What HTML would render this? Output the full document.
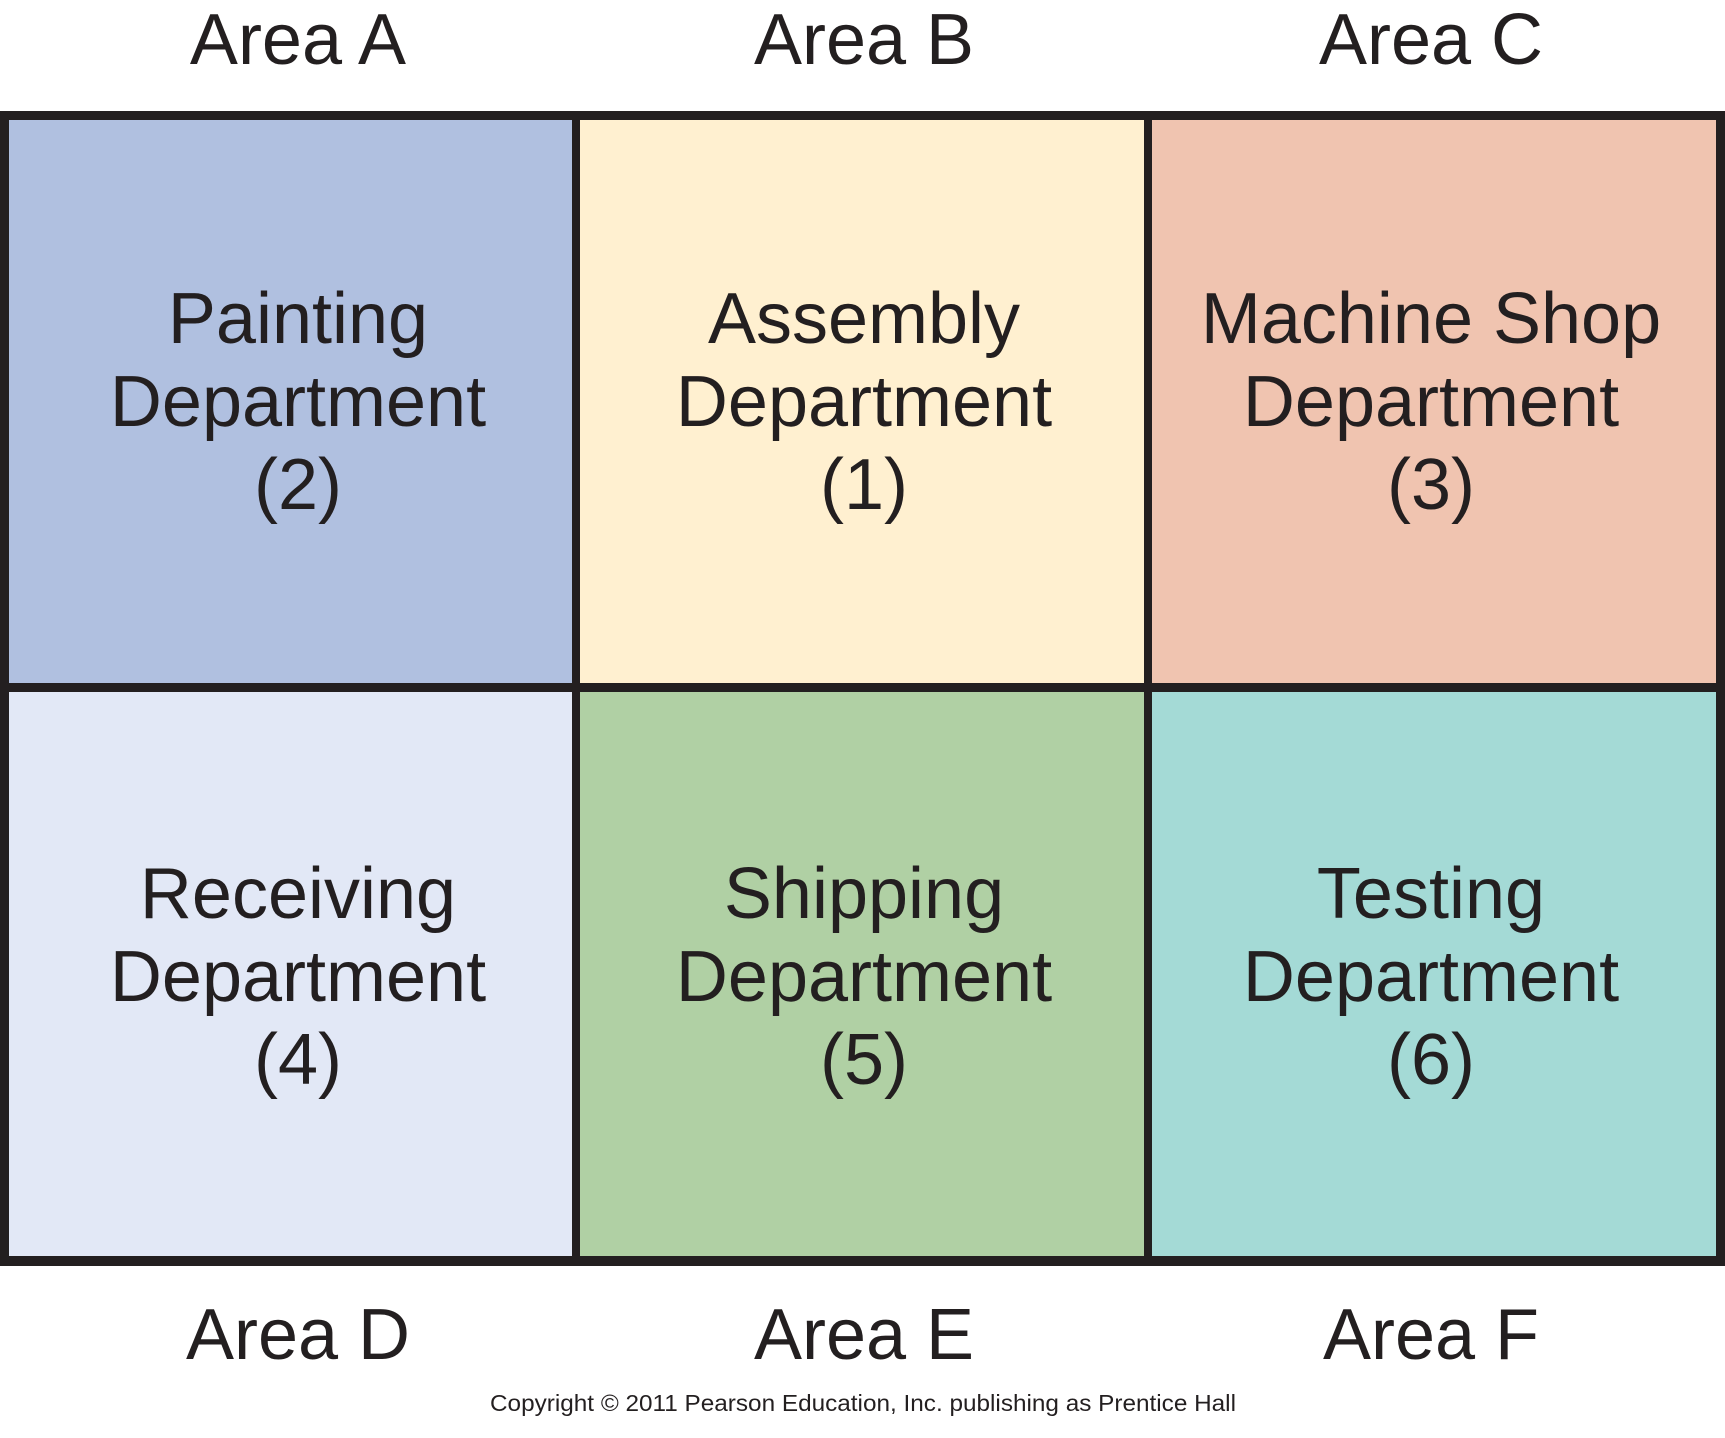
<!DOCTYPE html>
<html><head><meta charset="utf-8"><style>
html,body{margin:0;padding:0;background:#fff;}
svg{display:block;}
text{font-family:"Liberation Sans",Arial,sans-serif;fill:#231f20;}
</style></head><body>
<svg width="1725" height="1438" viewBox="0 0 1725 1438" xmlns="http://www.w3.org/2000/svg">
<rect x="0" y="0" width="1725" height="1438" fill="#fff"/>
<rect x="0" y="111" width="1725" height="1155" fill="#231f20"/>
<rect x="9" y="120" width="563" height="563" fill="#b0c0e0"/>
<rect x="580" y="120" width="564" height="563" fill="#fff0d0"/>
<rect x="1152" y="120" width="564" height="563" fill="#f0c4b0"/>
<rect x="9" y="692" width="563" height="564" fill="#e2e8f6"/>
<rect x="580" y="692" width="564" height="564" fill="#b0d0a4"/>
<rect x="1152" y="692" width="564" height="564" fill="#a4dad6"/>
<g font-size="72" text-anchor="middle">
<text x="298" y="64">Area A</text>
<text x="864" y="64">Area B</text>
<text x="1431" y="64">Area C</text>
<text x="298" y="1359">Area D</text>
<text x="864" y="1359">Area E</text>
<text x="1431" y="1359">Area F</text>
<text x="298" y="343">Painting</text>
<text x="298" y="426">Department</text>
<text x="298" y="509">(2)</text>
<text x="864" y="343">Assembly</text>
<text x="864" y="426">Department</text>
<text x="864" y="509">(1)</text>
<text x="1431" y="343">Machine Shop</text>
<text x="1431" y="426">Department</text>
<text x="1431" y="509">(3)</text>
<text x="298" y="918">Receiving</text>
<text x="298" y="1001">Department</text>
<text x="298" y="1084">(4)</text>
<text x="864" y="918">Shipping</text>
<text x="864" y="1001">Department</text>
<text x="864" y="1084">(5)</text>
<text x="1431" y="918">Testing</text>
<text x="1431" y="1001">Department</text>
<text x="1431" y="1084">(6)</text>
</g>
<text x="863" y="1411" font-size="23" text-anchor="middle" textLength="746" lengthAdjust="spacingAndGlyphs">Copyright © 2011 Pearson Education, Inc. publishing as Prentice Hall</text>
</svg>
</body></html>
